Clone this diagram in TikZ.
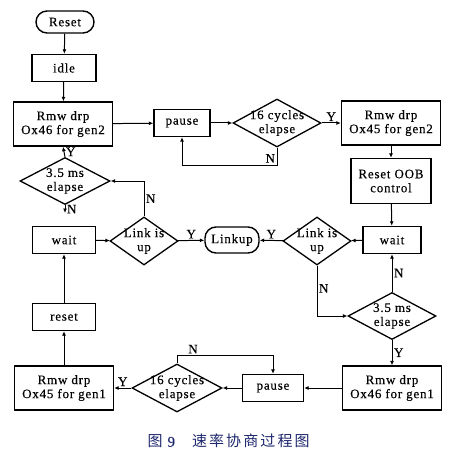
\documentclass[tikz,border=0pt]{standalone}
\usepackage{fontspec}
\setmainfont{Liberation Serif}[LetterSpace=6,FakeBold=0.3]
\newfontfamily\cjk{Noto Sans CJK SC}[LetterSpace=14]
\usetikzlibrary{shapes.geometric,arrows.meta}
\definecolor{capblue}{RGB}{30,40,110}
\begin{document}
\begin{tikzpicture}[x=1pt,y=-1pt,
  every node/.style={font=\fontsize{13}{14}\selectfont},
  box/.style={draw,line width=1.4pt,rectangle,align=center,inner sep=1pt},
  term/.style={draw,line width=1.4pt,rectangle,rounded corners=11pt,align=center,inner sep=1pt},
  dia/.style={draw,line width=1.3pt,diamond,inner sep=0pt},
  dtext/.style={align=center,inner sep=0pt},
  arr/.style={-{Latex[length=4.5pt,width=4pt]},line width=1pt},
  lab/.style={inner sep=1.5pt}]
\useasboundingbox (0,0) rectangle (450,457);
% nodes
\node[term,minimum width=58pt,minimum height=22pt] (rst) at (65,22) {Reset};
\node[box,minimum width=64pt,minimum height=27pt] (idle) at (64,68) {idle};
\node[box,minimum width=99pt,minimum height=44pt] (rg2a) at (63,124) {Rmw drp\\Ox46 for gen2};
\node[box,minimum width=56pt,minimum height=27pt] (pause1) at (182,123) {pause};
\node[dia,minimum width=88pt,minimum height=48pt] (cyc1) at (277,123) {};
\node[dtext] (cyc1t) at (277,123) {16 cycles\\elapse};
\node[box,minimum width=99pt,minimum height=44pt] (rg2b) at (391,123) {Rmw drp\\Ox45 for gen2};
\node[box,minimum width=80pt,minimum height=45pt] (oob) at (391,181) {Reset OOB\\control};
\node[dia,minimum width=90pt,minimum height=47pt] (el1) at (65,181) {};
\node[dtext] (el1t) at (65,181) {3.5 ms\\elapse};
\node[box,minimum width=63pt,minimum height=27pt] (wait1) at (64,240) {wait};
\node[dia,minimum width=68pt,minimum height=48pt] (link1) at (144,241) {};
\node[dtext] (link1t) at (144,241) {Link is\\up};
\node[term,minimum width=54pt,minimum height=26pt] (linkup) at (232,240) {Linkup};
\node[dia,minimum width=68pt,minimum height=48pt] (link2) at (317,241) {};
\node[dtext] (link2t) at (317,241) {Link is\\up};
\node[box,minimum width=58pt,minimum height=27pt] (wait2) at (392,240) {wait};
\node[dia,minimum width=88pt,minimum height=47pt] (el2) at (392,316) {};
\node[dtext] (el2t) at (392,316) {3.5 ms\\elapse};
\node[box,minimum width=63pt,minimum height=27pt] (reset1) at (64,317) {reset};
\node[box,minimum width=99pt,minimum height=44pt] (rg1b) at (392,388) {Rmw drp\\Ox46 for gen1};
\node[box,minimum width=61pt,minimum height=27pt] (pause2) at (273,388) {pause};
\node[dia,minimum width=90pt,minimum height=48pt] (cyc2) at (177,388) {};
\node[dtext] (cyc2t) at (177,388) {16 cycles\\elapse};
\node[box,minimum width=99pt,minimum height=44pt] (rg1a) at (64,388) {Rmw drp\\Ox45 for gen1};
\coordinate (el1n) at (65,213);
\node[text=capblue,font=\fontsize{15}{17}\selectfont,anchor=west] (cap) at (144,441) {{\cjk 图}\hspace{5pt}9\hspace{17pt}{\cjk 速率协商过程图}};
% connectors
\draw[arr] (rst) -- (idle);
\draw[arr] (idle) -- (rg2a);
\draw[arr] (rg2a) -- (pause1);
\draw[arr] (pause1) -- (cyc1);
\draw[arr] (cyc1) -- node[lab,above]{Y} (rg2b);
\draw[arr] (cyc1.south) -- node[lab,left,pos=0.6]{N} ++(0,18) -| (pause1.south);
\draw[arr] (rg2b) -- (oob);
\draw[arr] (oob) -- (wait2);
\draw[arr] (wait2) -- (link2);
\draw[arr] (link2) -- node[lab,above]{Y} (linkup);
\draw[arr] (link2.south) -- node[lab,right,pos=0.45]{N} (link2.south |- el2.west) -- (el2.west);
\draw[arr] (el2.north) -- node[lab,right]{N} (wait2.south);
\draw[arr] (el2.south) -- node[lab,right]{Y} (rg1b.north);
\draw[arr] (rg1b) -- (pause2);
\draw[arr] (pause2) -- (cyc2);
\draw[arr] (cyc2.north) -- ++(0,-8) node[lab,above,pos=1,xshift=16pt]{N} -| (pause2.north);
\draw[arr] (cyc2) -- node[lab,above]{Y} (rg1a);
\draw[arr] (rg1a) -- (reset1);
\draw[arr] (reset1) -- (wait1);
\draw[arr] (wait1) -- (link1);
\draw[arr] (link1) -- node[lab,above]{Y} (linkup);
\draw[arr] (link1.north) -- node[lab,right,pos=0.5]{N} (link1.north |- el1.east) -- (el1.east);
\draw[arr] (el1.north) -- node[lab,right]{Y} (rg2a.south);
\draw[arr] (el1.south) -- node[lab,right]{N} (el1n);
\end{tikzpicture}
\end{document}
